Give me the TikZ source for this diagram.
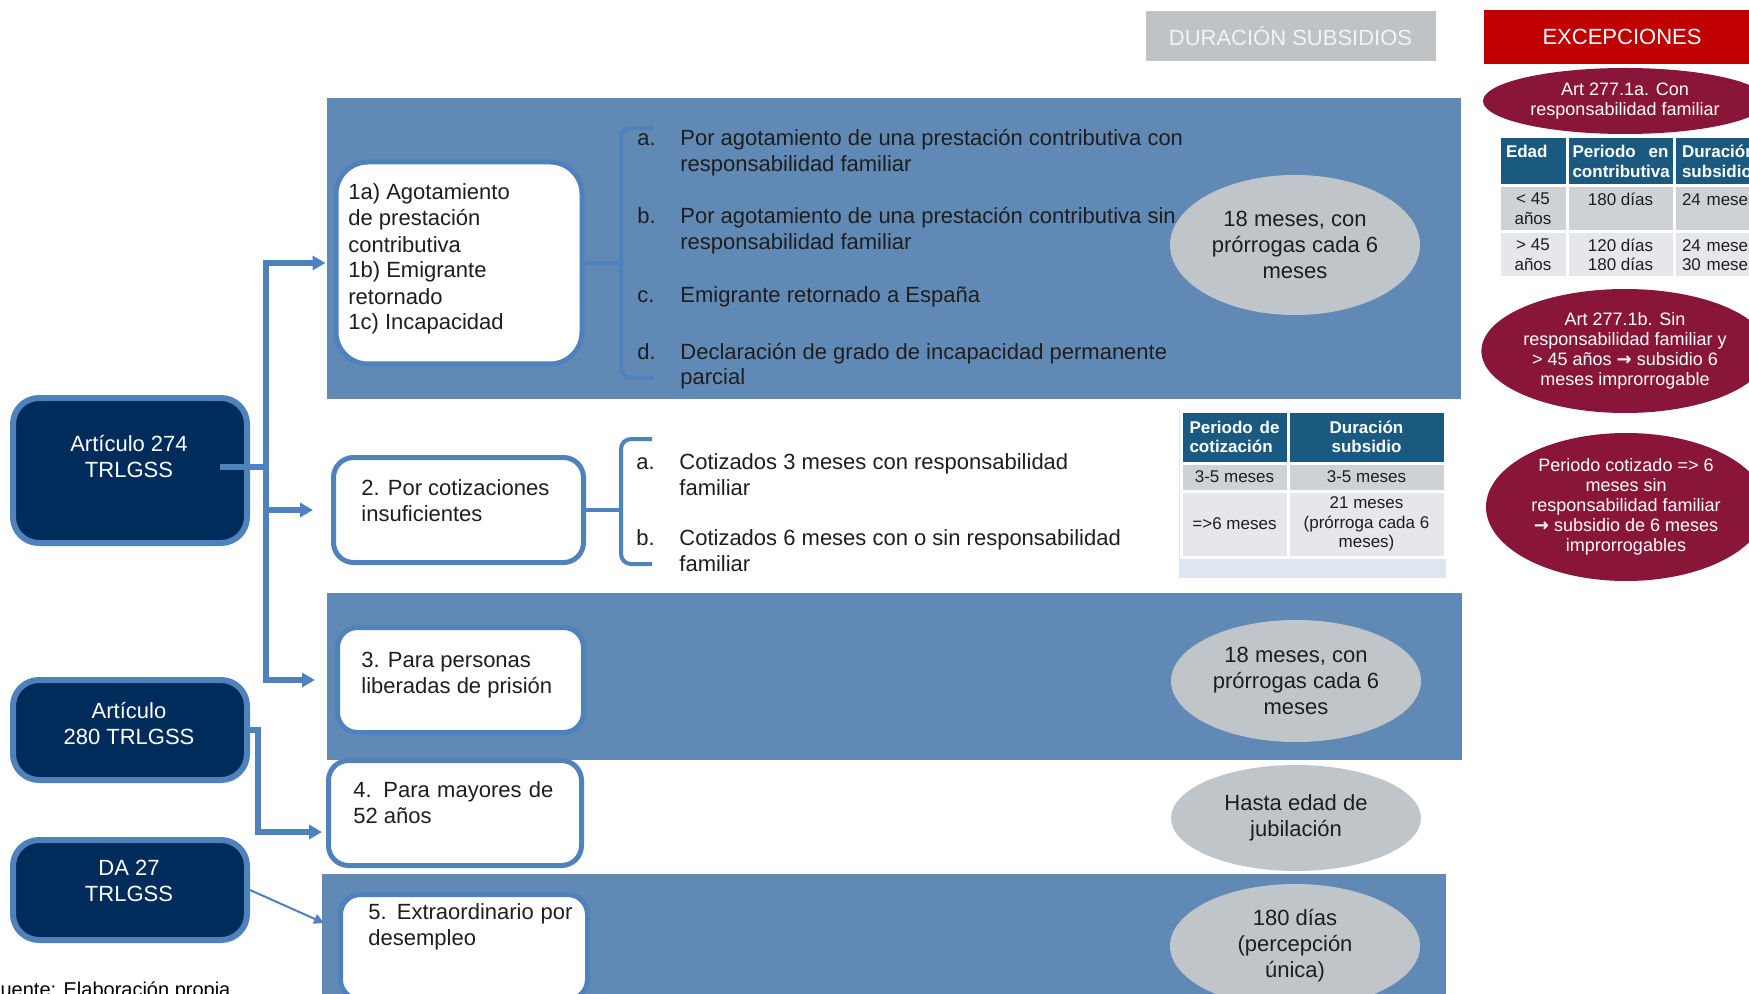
\documentclass[tikz,border=0pt]{standalone}
\usepackage{fontspec}
\setmainfont{Liberation Sans}
\newfontfamily\flechas{DejaVu Sans}
\usetikzlibrary{shapes.geometric,arrows.meta}

\definecolor{azulbanda}{RGB}{96,138,181}
\definecolor{azulborde}{RGB}{79,129,189}
\definecolor{marino}{RGB}{0,44,92}
\definecolor{grisel}{RGB}{192,197,201}
\definecolor{griscab}{RGB}{191,195,198}
\definecolor{grisclaro}{RGB}{243,243,243}
\definecolor{rojocab}{RGB}{192,0,0}
\definecolor{granate}{RGB}{137,22,56}
\definecolor{cabtabla}{RGB}{26,90,128}
\definecolor{fila1}{RGB}{206,210,215}
\definecolor{fila2}{RGB}{229,231,234}
\definecolor{marco}{RGB}{222,230,240}
\definecolor{tinta}{RGB}{30,30,30}

\tikzset{
	every node/.style={font=\fontsize{11}{13}\selectfont},
	banda/.style={fill=azulbanda},
	cabecera/.style={text=white,inner sep=0},
	opcion/.style={draw=azulborde,line width=2.5pt,fill=white,rounded corners=10pt,inner sep=0},
	articulo/.style={draw=azulborde,line width=3pt,fill=marino,rounded corners=13pt,inner sep=0,minimum width=117pt},
	arttexto/.style={text=white,align=center,anchor=base,inner sep=0},
	texto/.style={align=left,anchor=base west,inner sep=0,text=tinta},
	duracion/.style={ellipse,fill=grisel,align=center,inner sep=0,text=tinta},
	excepcion/.style={ellipse,fill=granate,text=white,align=center,inner sep=0,font=\fontsize{9}{10}\selectfont},
	celda/.style={draw=white,line width=1.5pt,inner sep=0,text=tinta,font=\fontsize{8.5}{9.8}\selectfont},
	celdacab/.style={celda,fill=cabtabla,text=white,font=\fontsize{8.5}{9.8}\selectfont\bfseries},
	flecha/.style={draw=azulborde,line width=2.6pt,-{Triangle[length=6.5pt,width=7pt]}},
	linea/.style={draw=azulborde,line width=2.6pt},
	fina/.style={draw=azulborde,line width=1pt,-{Triangle[length=5pt,width=5pt]}},
	llave/.style={draw=azulborde,line width=2pt,rounded corners=5pt}
}

\begin{document}
\begin{tikzpicture}[x=0.5pt,y=-0.5pt]
	\useasboundingbox (0,0) rectangle (1749,994);
	\clip (0,0) rectangle (1749,994);
	\fill[white] (0,0) rectangle (1749,994);
	
	\fill[banda] (327,98) rectangle (1461,399);
	\fill[banda] (327,593) rectangle (1462,760);
	\fill[banda] (322,874) rectangle (1446,1000);
	
	\node[cabecera, fill=griscab, text=grisclaro, minimum width=145pt, minimum height=25pt] (durac) at (1290.5,36) {DURACIÓN SUBSIDIOS};
	\node[cabecera, fill=rojocab, minimum width=138pt, minimum height=27pt] (excep) at (1622,37) {EXCEPCIONES};
	
	\node[articulo, minimum height=72.5pt] (art274) at (130,470.5) {};
	\node[arttexto] (art274t) at (129,477) {Artículo 274\\TRLGSS};
	\node[articulo, minimum height=50pt] (art280) at (130,730) {};
	\node[arttexto] (art280t) at (129,744) {Artículo\\280 TRLGSS};
	\node[articulo, minimum height=50pt] (da27) at (130,890) {};
	\node[arttexto] (da27t) at (129,901) {DA 27\\TRLGSS};
	
	\node[opcion, rounded corners=16pt, minimum width=123pt, minimum height=101pt] (op1) at (459,263) {};
	\node[texto] (op1t) at (348,330) {1a) Agotamiento\\de prestación\\contributiva\\1b) Emigrante\\retornado\\1c) Incapacidad};
	\node[opcion, minimum width=125pt, minimum height=52.5pt] (op2) at (458.5,510) {};
	\node[texto] (op2t) at (361,521) {2. Por cotizaciones\\insuficientes};
	\node[opcion, minimum width=123pt, minimum height=52.5pt] (op3) at (460.5,680) {};
	\node[texto] (op3t) at (361,693) {3. Para personas\\liberadas de prisión};
	\node[opcion, minimum width=126.5pt, minimum height=52.5pt] (op4) at (455,813) {};
	\node[texto, align=justify, text width=100pt] (op4t) at (353,797) {4. Para mayores de 52 años};
	\node[opcion, minimum width=123.5pt, minimum height=52.5pt] (op5) at (464,947) {};
	\node[texto, align=justify, text width=102pt] (op5t) at (368,919) {5. Extraordinario por desempleo};
	
	\node[texto] (ia) at (637,172) {\makebox[21.5pt][l]{a.}Por agotamiento de una prestación contributiva con\\\hspace*{21.5pt}responsabilidad familiar};
	\node[texto] (ib) at (637,250) {\makebox[21.5pt][l]{b.}Por agotamiento de una prestación contributiva sin\\\hspace*{21.5pt}responsabilidad familiar};
	\node[texto] (ic) at (637,303) {\makebox[21.5pt][l]{c.}Emigrante retornado a España};
	\node[texto] (id) at (637,385) {\makebox[21.5pt][l]{d.}Declaración de grado de incapacidad permanente\\\hspace*{21.5pt}parcial};
	\node[texto] (i2a) at (636,495) {\makebox[21.5pt][l]{a.}Cotizados 3 meses con responsabilidad\\\hspace*{21.5pt}familiar};
	\node[texto] (i2b) at (636,571) {\makebox[21.5pt][l]{b.}Cotizados 6 meses con o sin responsabilidad\\\hspace*{21.5pt}familiar};
	
	\coordinate (ll1) at (621,263);
	\draw[llave] (653,128) -| (ll1) |- (653,378);
	\draw[llave] (op1.east) -- (ll1);
	\coordinate (ll2) at (621,510);
	\draw[llave] (652,439) -| (ll2) |- (652,564);
	\draw[llave] (op2.east) -- (ll2);
	
	\node[duracion, minimum width=125pt, minimum height=70pt] (dur1) at (1295,245) {18 meses, con\\prórrogas cada 6\\meses};
	\node[duracion, minimum width=125pt, minimum height=61pt] (dur3) at (1296,681) {18 meses, con\\prórrogas cada 6\\meses};
	\node[duracion, minimum width=125pt, minimum height=53pt] (dur4) at (1296,818) {Hasta edad de\\jubilación};
	\node[duracion, minimum width=125pt, minimum height=62pt] (dur5) at (1295,946) {180 días\\(percepción\\única)};
	
	\fill[marco] (1179,410) rectangle (1446,578);
	\node[celdacab, minimum width=53.5pt, minimum height=26pt, text width=45pt, align=left] (t2h1) at (1234.5,437) {Periodo\hfill de\\cotización};
	\node[celdacab, minimum width=78.5pt, minimum height=26pt, align=center] (t2h2) at (1366.5,437) {Duración\\subsidio};
	\node[celda, fill=fila1, minimum width=53.5pt, minimum height=14pt] (t2a1) at (1234.5,477) {3-5 meses};
	\node[celda, fill=fila1, minimum width=78.5pt, minimum height=14pt] (t2a2) at (1366.5,477) {3-5 meses};
	\node[celda, fill=fila2, minimum width=53.5pt, minimum height=33pt] (t2b1) at (1234.5,524) {=>6 meses};
	\node[celda, fill=fila2, minimum width=78.5pt, minimum height=33pt, align=center] (t2b2) at (1366.5,524) {21 meses\\(prórroga cada 6\\meses)};
	
	\node[excepcion, minimum width=142pt, minimum height=33pt] (x1) at (1625,101) {Art 277.1a. Con\\responsabilidad familiar};
	
	\node[celdacab, minimum width=34pt, minimum height=24.5pt, text width=27pt, align=left] (xh1) at (1533,161.5) {Edad\\\phantom{x}};
	\node[celdacab, minimum width=53.5pt, minimum height=24.5pt, text width=48pt, align=left] (xh2) at (1620.5,161.5) {Periodo\hfill en\\contributiva};
	\node[celdacab, minimum width=63pt, minimum height=24.5pt, text width=55pt, align=left] (xh3) at (1737,161.5) {Duración\\subsidio};
	\node[celda, fill=fila1, minimum width=34pt, minimum height=23pt, align=center] (xa1) at (1533,209) {< 45\\años};
	\node[celda, fill=fila1, minimum width=53.5pt, minimum height=23pt, align=center] (xa2) at (1620.5,209) {180 días\\\phantom{x}};
	\node[celda, fill=fila1, minimum width=63pt, minimum height=23pt, text width=55pt, align=left] (xa3) at (1737,209) {24 meses\\\phantom{x}};
	\node[celda, fill=fila2, minimum width=34pt, minimum height=23pt, align=center] (xb1) at (1533,255) {> 45\\años};
	\node[celda, fill=fila2, minimum width=53.5pt, minimum height=23pt, align=center] (xb2) at (1620.5,255) {120 días\\180 días};
	\node[celda, fill=fila2, minimum width=63pt, minimum height=23pt, text width=55pt, align=left] (xb3) at (1737,255) {24 meses\\30 meses};
	
	\node[excepcion, minimum width=140pt, minimum height=62pt] (x2) at (1625,351) {Art 277.1b. Sin\\responsabilidad familiar y\\> 45 años {\flechas\bfseries →} subsidio 6\\meses improrrogable};
	\node[excepcion, minimum width=140pt, minimum height=74pt] (x3) at (1626,507) {Periodo cotizado => 6\\meses sin\\responsabilidad familiar\\{\flechas\bfseries →} subsidio de 6 meses\\improrrogables};
	
	\coordinate (rama) at (266,467);
	\draw[linea] ([xshift=-15pt]art274.east |- rama) -- (rama);
	\draw[flecha, shorten >=4pt] (rama) |- (op1.west);
	\draw[flecha, shorten >=9pt] (rama) |- (op2.west);
	\draw[flecha, shorten >=10pt] (rama) |- (op3.west);
	\draw[flecha, shorten >=2pt] (art280.east) -- ++(8,0) |- ([yshift=-9.5pt]op4.west);
	\coordinate (p5) at (324,923);
	\draw[fina] (da27.east) -- (p5);
	
	\node[anchor=base west, inner sep=0, font=\fontsize{10}{12}\selectfont] (fuente) at (-12,996) {Fuente: Elaboración propia};
\end{tikzpicture}
\end{document}
